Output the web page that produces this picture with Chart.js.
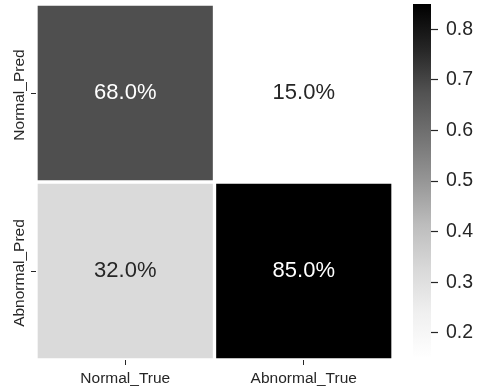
<!DOCTYPE html>
<html>
<head>
<meta charset="utf-8">
<script src="https://cdn.jsdelivr.net/npm/chart.js@4.4.1/dist/chart.umd.min.js"></script>
<style>
    body { margin: 0; background: #fff; }
    #wrap { position: relative; width: 477px; height: 390px; }
    #heat { position: absolute; left: 0; top: 0; }
    #cbar { position: absolute; left: 400px; top: 0; }
</style>
</head>
<body>
<div id="wrap">
    <canvas id="heat" width="477" height="390"></canvas>
    <canvas id="cbar" width="77" height="390"></canvas>
</div>
<script>
// Данные матрицы ошибок
const predLabels = ['Normal_Pred', 'Abnormal_Pred'];
const trueLabels = ['Normal_True', 'Abnormal_True'];
const normalPredRow = [0.68, 0.15];
const abnormalPredRow = [0.32, 0.85];
const colorbarTicks = [0.2, 0.3, 0.4, 0.5, 0.6, 0.7, 0.8];
const vmin = 0.15;
const vmax = 0.85;

// Палитра Greys (matplotlib)
const GREYS = [255, 240, 217, 189, 150, 115, 82, 37, 0];
const TEXT_DARK = '#262626';
const FONT = '"Liberation Sans", Arial, sans-serif';

Chart.defaults.font.family = FONT;
Chart.defaults.color = TEXT_DARK;

function greyAt(t) {
    t = Math.max(0, Math.min(1, t));
    const pos = t * (GREYS.length - 1);
    const i = Math.min(Math.floor(pos), GREYS.length - 2);
    const v = Math.round(GREYS[i] + (GREYS[i + 1] - GREYS[i]) * (pos - i));
    return `rgb(${v}, ${v}, ${v})`;
}

function colorFor(value) {
    return greyAt((value - vmin) / (vmax - vmin));
}

function textColorFor(value) {
    return (value - vmin) / (vmax - vmin) > 0.5 ? '#ffffff' : TEXT_DARK;
}

const rows = [normalPredRow, abnormalPredRow];

// Подписи значений в ячейках и подписи строк
const cellLabels = {
    id: 'cellLabels',
    afterDatasetsDraw(chart) {
        const ctx = chart.ctx;
        ctx.save();
        ctx.font = `22px ${FONT}`;
        ctx.textAlign = 'center';
        ctx.textBaseline = 'middle';
        rows.forEach((row, r) => {
            const meta = chart.getDatasetMeta(r);
            meta.data.forEach((bar, c) => {
                const p = bar.getCenterPoint();
                ctx.fillStyle = textColorFor(row[c]);
                ctx.fillText((row[c] * 100).toFixed(1) + '%', p.x, p.y);
            });
        });

        const y = chart.scales.y;
        ctx.font = `15.5px ${FONT}`;
        ctx.fillStyle = TEXT_DARK;
        ctx.textBaseline = 'alphabetic';
        y.ticks.forEach((tick, i) => {
            ctx.save();
            ctx.translate(24, y.getPixelForValue(tick.value) + 2);
            ctx.rotate(-Math.PI / 2);
            ctx.fillText(predLabels[i], 0, 0);
            ctx.restore();
        });
        ctx.restore();
    }
};

new Chart(document.getElementById('heat'), {
    type: 'bar',
    data: {
        labels: trueLabels,
        datasets: rows.map((row, r) => ({
            label: predLabels[r],
            data: row.map(() => [r, r + 1]),
            backgroundColor: row.map(colorFor),
            borderColor: '#ffffff',
            borderWidth: 2,
            borderSkipped: false,
            grouped: false,
            categoryPercentage: 1,
            barPercentage: 1
        }))
    },
    options: {
        responsive: false,
        animation: false,
        layout: { padding: { left: 0, right: 84, top: 4, bottom: 0 } },
        scales: {
            x: {
                offset: true,
                grid: { offset: false, drawOnChartArea: false, tickLength: 5, tickColor: TEXT_DARK },
                border: { display: false },
                ticks: { font: { size: 15.5 }, color: TEXT_DARK, padding: 4, maxRotation: 0 },
                afterFit: s => { s.height = 30; }
            },
            y: {
                reverse: true,
                min: 0,
                max: 2,
                afterBuildTicks: s => { s.ticks = predLabels.map((_, i) => ({ value: i + 0.5 })); },
                grid: { drawOnChartArea: false, tickLength: 5, tickColor: TEXT_DARK },
                border: { display: false },
                ticks: { display: false },
                afterFit: s => { s.width = 36; }
            }
        },
        plugins: {
            legend: { display: false },
            tooltip: { enabled: false }
        }
    },
    plugins: [cellLabels]
});

// Цветовая шкала
new Chart(document.getElementById('cbar'), {
    type: 'bar',
    data: {
        labels: [''],
        datasets: [{
            data: [[vmin, vmax]],
            backgroundColor: ctx => {
                const area = ctx.chart.chartArea;
                const y = ctx.chart.scales.y;
                if (!area || !y) return '#888';
                const y0 = y.getPixelForValue(vmin);
                const y1 = y.getPixelForValue(vmax);
                const g = ctx.chart.ctx.createLinearGradient(0, y0, 0, y1);
                GREYS.forEach((_, i) => g.addColorStop(i / (GREYS.length - 1), greyAt(i / (GREYS.length - 1))));
                return g;
            },
            borderWidth: 0,
            categoryPercentage: 1,
            barPercentage: 1
        }]
    },
    options: {
        responsive: false,
        animation: false,
        layout: { padding: { left: 13, right: 0, top: 4, bottom: 32 } },
        scales: {
            x: { display: false },
            y: {
                position: 'right',
                min: vmin,
                max: vmax,
                afterBuildTicks: s => { s.ticks = colorbarTicks.map(v => ({ value: v })); },
                grid: { drawOnChartArea: false, tickLength: 7, tickColor: TEXT_DARK, tickWidth: 1.2 },
                border: { display: false },
                ticks: {
                    font: { size: 19.5 },
                    color: TEXT_DARK,
                    padding: 8,
                    callback: v => v.toFixed(1)
                },
                afterFit: s => {
                    s.width = 46;
                    s.paddingTop = 0;
                    s.paddingBottom = 0;
                }
            }
        },
        plugins: {
            legend: { display: false },
            tooltip: { enabled: false }
        }
    }
});
</script>
</body>
</html>
